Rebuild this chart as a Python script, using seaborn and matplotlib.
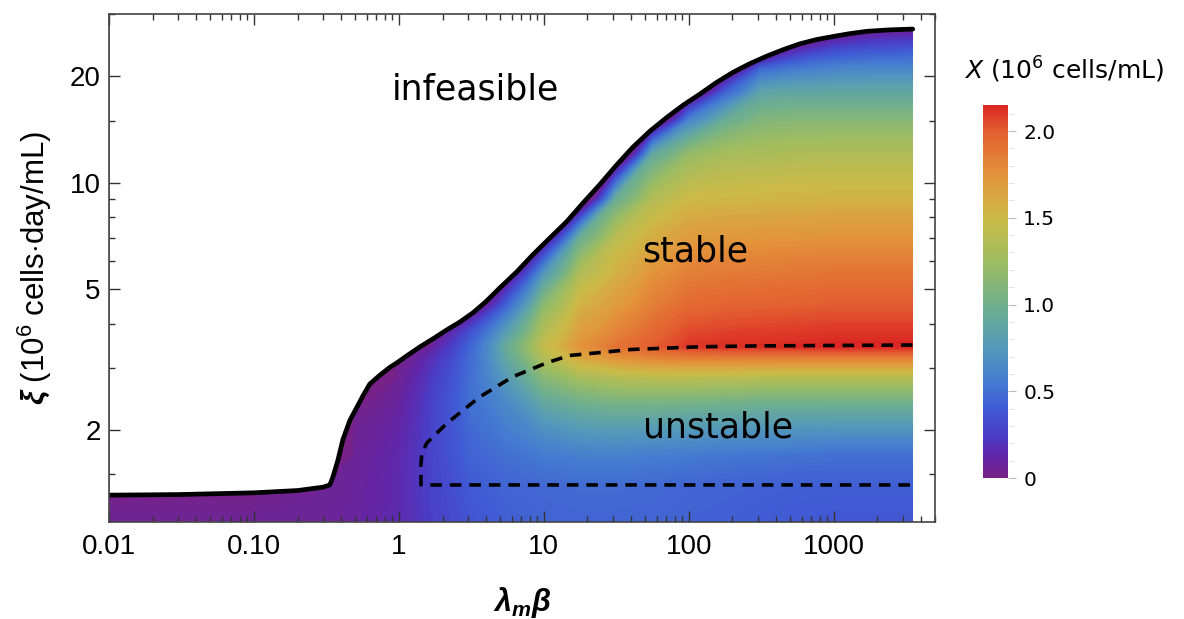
import numpy as np
import matplotlib
matplotlib.use("Agg")
import matplotlib.pyplot as plt
import matplotlib.cm as cm
import seaborn as sns
from matplotlib.colors import LinearSegmentedColormap, Normalize
from matplotlib.ticker import FixedLocator, FixedFormatter, NullFormatter

# sample grid of the density plot, values of X (10^6 cells/mL)
lam_beta = [0.01, 0.1, 0.316, 0.5, 1, 1.78, 3.16, 5.62, 10, 17.8, 31.6, 56.2, 100,
            178, 316, 562, 1000, 1780, 3500]
xi_rows = [1.1, 1.4, 1.7, 2.0, 2.4, 2.8, 3.2, 3.45, 3.8, 4.5, 5.5, 7, 9, 12, 15, 18, 21, 24, 27, 30]
# one list per lam_beta column, bottom (xi=1.1) to top (xi=30); values <= 0 lie on the infeasible side
X_cols = [
    [0.05, 0.00] + [-0.3] * 18,
    [0.06, 0.00] + [-0.3] * 18,
    [0.07, 0.05] + [-0.3] * 18,
    [0.09, 0.08, 0.07, 0.05, 0.00] + [-0.3] * 15,
    [0.15, 0.15, 0.14, 0.12, 0.09, 0.06, 0.00] + [-0.3] * 13,
    [0.27, 0.29, 0.30, 0.30, 0.29, 0.26, 0.20, 0.12, 0.00] + [-0.3] * 11,
    [0.37, 0.40, 0.44, 0.47, 0.50, 0.50, 0.48, 0.45, 0.35, -0.12] + [-0.3] * 10,
    [0.42, 0.45, 0.50, 0.57, 0.65, 0.78, 0.90, 0.95, 0.80, 0.45, -0.05] + [-0.3] * 9,
    [0.44, 0.47, 0.55, 0.68, 0.90, 1.12, 1.35, 1.45, 1.35, 1.15, 0.75, -0.09] + [-0.3] * 8,
    [0.45, 0.48, 0.58, 0.75, 1.00, 1.28, 1.62, 1.75, 1.68, 1.55, 1.35, 0.95, -0.34] + [-0.3] * 7,
    [0.45, 0.48, 0.58, 0.77, 1.05, 1.35, 1.75, 1.90, 1.82, 1.70, 1.57, 1.40, 0.95, -0.40] + [-0.3] * 6,
    [0.45, 0.47, 0.57, 0.76, 1.05, 1.38, 1.82, 2.00, 1.95, 1.85, 1.75, 1.58, 1.35, 0.90, -0.26] + [-0.3] * 5,
    [0.43, 0.45, 0.55, 0.74, 1.03, 1.38, 1.85, 2.10, 2.05, 1.95, 1.85, 1.70, 1.50, 1.20, 0.60, -0.22] + [-0.3] * 4,
    [0.42, 0.44, 0.53, 0.73, 1.02, 1.37, 1.85, 2.12, 2.07, 1.97, 1.87, 1.72, 1.52, 1.30, 0.95, 0.42, -0.20, -0.3, -0.3, -0.3],
    [0.40, 0.43, 0.52, 0.72, 1.00, 1.36, 1.85, 2.13, 2.08, 1.98, 1.88, 1.73, 1.53, 1.32, 1.10, 0.85, 0.45, -0.41, -0.3, -0.3],
    [0.39, 0.42, 0.51, 0.71, 1.00, 1.35, 1.85, 2.14, 2.09, 1.99, 1.89, 1.74, 1.54, 1.34, 1.12, 0.88, 0.55, 0.12, -0.23, -0.3],
    [0.38, 0.42, 0.50, 0.70, 1.00, 1.35, 1.85, 2.15, 2.10, 2.00, 1.90, 1.75, 1.55, 1.35, 1.12, 0.88, 0.60, 0.28, -0.08, -0.3],
    [0.38, 0.42, 0.50, 0.70, 1.00, 1.35, 1.85, 2.15, 2.10, 2.00, 1.90, 1.75, 1.55, 1.35, 1.12, 0.88, 0.62, 0.33, 0.03, -0.3],
    [0.38, 0.42, 0.50, 0.70, 1.00, 1.35, 1.85, 2.15, 2.10, 2.00, 1.90, 1.75, 1.55, 1.35, 1.12, 0.88, 0.62, 0.36, 0.06, -0.3],
]

# feasibility boundary (solid)
bnd_x = [0.01, 0.03, 0.1, 0.2, 0.3, 0.334, 0.35, 0.379, 0.411, 0.459, 0.513, 0.565, 0.63, 0.74,
         0.867, 0.97, 1.18, 1.40, 1.75, 2.14, 2.63, 3.24, 4.0, 4.98, 6.5, 8.4, 11, 14.4, 18.7,
         24.3, 31.6, 41.1, 54, 70.5, 92, 119, 155, 201, 263, 345, 450, 583, 760, 984, 1290,
         1690, 2400, 3510]
bnd_y = [1.31, 1.315, 1.33, 1.35, 1.38, 1.40, 1.47, 1.64, 1.88, 2.13, 2.32, 2.50, 2.70, 2.86,
         3.01, 3.10, 3.28, 3.44, 3.64, 3.84, 4.04, 4.29, 4.62, 5.05, 5.60, 6.26, 6.98, 7.77, 8.78,
         9.88, 11.2, 12.6, 14.0, 15.3, 16.6, 17.8, 19.2, 20.5, 21.7, 22.8, 23.8, 24.7, 25.4, 25.9,
         26.4, 26.8, 27.05, 27.2]

# stability boundary (dashed)
stab_x = [3500, 1000, 300, 119, 40, 15, 10.5, 6.1, 3.6, 2.14, 1.56, 1.44, 1.42, 1.42, 3500]
stab_y = [3.48, 3.47, 3.46, 3.44, 3.38, 3.25, 3.10, 2.83, 2.48, 2.09, 1.84, 1.72, 1.60, 1.40, 1.40]

# colour stops of the colour bar
cbar_vals = [0.0, 0.12, 0.25, 0.40, 0.55, 0.75, 1.0, 1.25, 1.5, 1.75, 2.0, 2.15]
cbar_cols = [(0.47, 0.13, 0.53), (0.38, 0.15, 0.66), (0.29, 0.24, 0.78), (0.25, 0.36, 0.83),
             (0.27, 0.48, 0.82), (0.33, 0.60, 0.73), (0.44, 0.69, 0.55), (0.62, 0.74, 0.38),
             (0.80, 0.73, 0.28), (0.89, 0.58, 0.23), (0.89, 0.37, 0.19), (0.86, 0.15, 0.14)]
x_max = 2.15

sns.set_theme(style="ticks")
plt.rcParams["font.family"] = ["Liberation Sans", "DejaVu Sans"]
plt.rcParams["mathtext.fontset"] = "custom"
plt.rcParams["mathtext.rm"] = "Liberation Sans"
plt.rcParams["mathtext.it"] = "Liberation Sans:italic:bold"
plt.rcParams["mathtext.bf"] = "Liberation Sans:bold"
plt.rcParams["text.color"] = "black"

cmap = LinearSegmentedColormap.from_list(
    "rainbow_mma", list(zip(np.array(cbar_vals) / x_max, cbar_cols)))
cmap.set_under(cbar_cols[0])
cmap.set_over(cbar_cols[-1])
norm = Normalize(0, x_max)

fig = plt.figure(figsize=(11.84, 6.19), dpi=100)
ax = fig.add_axes([109 / 1184, 1 - 522 / 619, 826 / 1184, 508 / 619])
ax.set_xscale("log")
ax.set_yscale("log")
ax.set_axisbelow(False)

Z = np.array(X_cols).T
cs = ax.contourf(lam_beta, xi_rows, Z, levels=np.linspace(0, x_max, 160),
                 cmap=cmap, norm=norm, extend="both", zorder=1)
cs.set_edgecolor("face")
cs.set_linewidth(0.3)

# white out the infeasible part
ax.fill_between(bnd_x, bnd_y, 40, color="white", lw=0, zorder=2)

sns.lineplot(x=bnd_x, y=bnd_y, sort=False, estimator=None, color="black",
             lw=3.4, ax=ax, zorder=4)
sns.lineplot(x=stab_x, y=stab_y, sort=False, estimator=None, color="black",
             lw=2.6, linestyle=(0, (3.2, 2.2)), ax=ax, zorder=4)

txt = dict(fontsize=25, family="DejaVu Sans", va="baseline", color="black", zorder=5)
ax.text(0.9, 17.2, "infeasible", **txt)
ax.text(48, 6.0, "stable", **txt)
ax.text(48, 1.91, "unstable", **txt)

ax.set_xlim(0.01, 5000)
ax.set_ylim(1.1, 30)

ax.xaxis.set_major_locator(FixedLocator([0.01, 0.1, 1, 10, 100, 1000]))
ax.xaxis.set_major_formatter(FixedFormatter(["0.01", "0.10", "1", "10", "100", "1000"]))
ax.xaxis.set_minor_locator(FixedLocator([m * 10.0 ** k for k in range(-2, 4) for m in range(2, 10)
                                         if m * 10.0 ** k <= 5000]))
ax.xaxis.set_minor_formatter(NullFormatter())
ax.yaxis.set_major_locator(FixedLocator([2, 5, 10, 20]))
ax.yaxis.set_major_formatter(FixedFormatter(["2", "5", "10", "20"]))
ax.yaxis.set_minor_locator(FixedLocator([1.5, 3, 4, 6, 7, 8, 9, 15, 30]))
ax.yaxis.set_minor_formatter(NullFormatter())

ax.tick_params(which="both", direction="in", top=True, right=True, color="#333",
               width=1, labelsize=20, labelcolor="black")
ax.tick_params(which="major", length=8)
ax.tick_params(which="minor", length=4.5)
ax.tick_params(axis="x", pad=9)
ax.tick_params(axis="y", pad=6)
for s in ax.spines.values():
    s.set_color("#444")
    s.set_linewidth(1.2)
    s.set_zorder(6)

ax.set_xlabel(r"$\lambda_m\beta$", fontsize=22, va="center", color="black")
ax.xaxis.set_label_coords(0.5, -0.159)
ax.set_ylabel(r"$\xi$ (10$^6$ cells$\cdot$day/mL)", fontsize=22.5, va="center", color="black")
ax.yaxis.set_label_coords(-0.0896, 0.5)

# colour bar
cax = fig.add_axes([983 / 1184, 1 - 478 / 619, 25 / 1184, 373 / 619])
cb = fig.colorbar(cm.ScalarMappable(norm=norm, cmap=cmap), cax=cax)
cb.outline.set_visible(False)
cb.set_ticks([0, 0.5, 1.0, 1.5, 2.0], labels=["0", "0.5", "1.0", "1.5", "2.0"])
cax.yaxis.set_minor_locator(FixedLocator(np.arange(0.1, 2.15, 0.1)))
cax.tick_params(which="major", length=6, color="#bbb", width=0.8, labelsize=14.5, pad=5,
                labelcolor="black")
cax.tick_params(which="minor", length=4, color="#e0e0e0", width=0.6)
for lab in cax.get_yticklabels():
    lab.set_family("DejaVu Sans")
fig.text(1064 / 1184, 1 - 70 / 619, r"$X$ (10$^6$ cells/mL)", ha="center", va="center",
         fontsize=18, family="DejaVu Sans", math_fontfamily="dejavusans", color="black")

fig.savefig("out.png", dpi=100)
